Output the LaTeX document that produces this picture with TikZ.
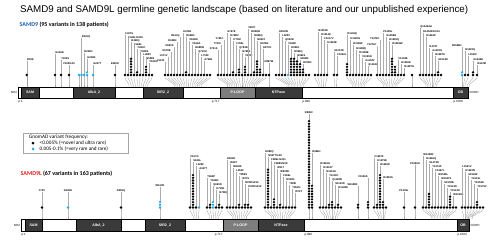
\documentclass[tikz,border=0pt]{standalone}
\usepackage{fontspec}
\setmainfont{Liberation Sans}
\newfontfamily\carl{Carlito}
\definecolor{dk}{RGB}{58,58,58}
\definecolor{pl}{RGB}{125,125,125}
\definecolor{bl}{RGB}{40,170,225}
\definecolor{sb}{RGB}{30,95,175}
\definecolor{sr}{RGB}{225,30,30}
\newcounter{lpc}
\newcommand\labf{\fontsize{2.6}{3}\selectfont\bfseries}
\newcommand\lp[6]{%
 \stepcounter{lpc}%
 \pgfmathsetmacro\lpbx{\grc+\grf*(#1-\grc)}%
 \pgfmathsetmacro\lptop{\lpby-(#2-1)*2.7}%
 \draw[fan] (#1,\lpby) -- (#1,\lpby+3) -- (\lpbx,\lpbt-2.5) -- (\lpbx,\lpbt);%
 \draw[stem] (#1,\lptop) -- (#1,#3);%
 \node[lab,anchor=#6] (v\arabic{lpc}) at (#1,#3) {#4};%
 \foreach \k in {1,...,#2}{\fill[#5] (#1,\lpby-\k*2.7+2.7) circle (1.3);}%
}
\newcommand\lpn[3]{%
 \pgfmathsetmacro\lpbx{\grc+\grf*(#1-\grc)}%
 \draw[fan] (#1,\lpby) -- (#1,\lpby+3) -- (\lpbx,\lpbt-2.5) -- (\lpbx,\lpbt);%
 \foreach \k in {1,...,#2}{\fill[#3] (#1,\lpby-\k*2.7+2.7) circle (1.3);}%
}
\newcommand\dombox[7]{%
 \draw[line width=0.5pt, fill=#5] (#1,#3) rectangle (#2,#4);%
 \node[domlab] (#7) at ({(#1+#2)/2},{(#3+#4)/2}) {#6};%
}
\tikzset{
 fan/.style={draw=gray!75, line width=0.3pt},
 stem/.style={draw=gray!65, line width=0.3pt},
 lab/.style={font=\labf, inner sep=0.25pt},
 domlab/.style={font=\fontsize{3.6}{4}\selectfont\bfseries, text=white, inner sep=0pt},
 small/.style={font=\fontsize{3}{3.5}\selectfont, inner sep=0.3pt},
}
\begin{document}
\begin{tikzpicture}[x=1pt,y=-1pt]
\useasboundingbox (0,0) rectangle (500,243);
\fill[white] (0,0) rectangle (500,243);
% title
\node[anchor=west, inner sep=0] (title) at (20,10) {\resizebox{448pt}{!}{SAMD9 and SAMD9L germline genetic landscape (based on literature and our unpublished experience)}};
\node[anchor=west, inner sep=0, font={\fontsize{6}{7}\selectfont\carl\bfseries}] (t9) at (19.5,24.5) {\textcolor{sb}{SAMD9} (95 variants in 138 patients)};
\node[anchor=west, inner sep=0, font={\fontsize{6}{7}\selectfont\carl\bfseries}] (t9l) at (20.5,173.3) {\textcolor{sr}{SAMD9L} (67 variants in 163 patients)};
% legend
\draw[gray!70, line width=0.5pt] (23,133) rectangle (128,153);
\node[anchor=west, inner sep=0, font={\fontsize{5.2}{6}\selectfont\carl}] (lg0) at (29,137.5) {GnomAD variant frequency:};
\fill[black] (33,143.2) circle (1.5);
\node[anchor=west, inner sep=0, font={\fontsize{5.2}{6}\selectfont\carl}] (lg1) at (39.5,143.2) {<0.005\% (=novel and ultra rare)};
\fill[bl] (33,149) circle (1.5);
\node[anchor=west, inner sep=0, font={\fontsize{5.2}{6}\selectfont\carl}] (lg2) at (39.5,149) {0.005-0.1\% (=very rare and rare)};

% ================= SAMD9 =================
\def\lpby{75}\def\lpbt{87}
\def\grf{1}
\def\grc{26.7}\lp{26.7}{1}{61}{R33K}{black}{south west}
\def\grc{55}\lp{55}{1}{54}{G136R}{black}{south west}
\def\grc{61}\lp{61}{1}{60}{T155S}{black}{south west}
\def\grc{69}\lp{69}{1}{65}{V162fsX5}{black}{south}
\def\grc{79}\lpn{79}{1}{bl}
\def\grc{81.5}\lp{81.5}{1}{38}{R221Q}{bl}{south west}
\def\grc{84}\lp{84}{1}{53}{R230H}{bl}{south west}
\def\grc{87}\lp{87}{2}{59}{H244R}{bl}{south west}
\def\grc{93}\lp{93}{1}{65}{G247T}{bl}{south west}
\def\grc{115}\lp{115}{1}{65}{E360K}{black}{south}
% group A
\def\grc{138}\def\grf{0.7}
\lp{125}{1}{35}{F437S}{black}{south west}
\lp{128}{1}{38.5}{F440LfsX19}{black}{south west}
\lp{131}{7}{42}{R459Q}{black}{south west}
\lp{134}{1}{45.5}{F466L}{black}{south west}
\lp{137}{2}{49}{Y484C}{black}{south west}
\lp{140}{1}{52.5}{Y489S}{black}{south west}
\lp{143}{1}{56}{L495V}{black}{south west}
\lp{146}{4}{59.5}{N508S}{black}{south west}
\lp{149}{1}{63}{V520G}{black}{south west}
\lpn{152}{1}{black}
% group B
\def\grc{188}\def\grf{0.6}
\lp{165}{1}{62}{L567F}{black}{south east}
\lp{168}{1}{57}{L571V}{black}{south east}
\lp{171}{1}{52}{K578E}{black}{south east}
\lp{174}{1}{47}{N590S}{black}{south east}
\lp{177}{1}{42}{D608N}{black}{south east}
\lp{180}{1}{37}{R614Q}{black}{south east}
\lp{183}{1}{33}{K676E}{black}{south west}
\lp{186}{2}{37}{D669N}{black}{south west}
\lp{189}{1}{41}{V622M}{black}{south west}
\lp{192}{1}{45}{V636A}{black}{south west}
\lp{195}{1}{49}{R685W}{black}{south west}
\lp{198}{1}{53}{Q710H}{black}{south west}
\lp{201}{1}{57}{L710F}{black}{south west}
\lp{204}{1}{61}{A722E}{black}{south west}
\lpn{207}{1}{black}
\lpn{210}{1}{black}
% group C
\def\grc{242}\def\grf{0.6}
\lp{218}{1}{50}{F741S}{black}{south east}
\lp{221}{1}{45}{T749I}{black}{south east}
\lp{224}{1}{40}{Y761C}{black}{south east}
\lp{227}{1}{33}{G767E}{black}{south west}
\lp{230}{1}{37}{D769N}{black}{south west}
\lp{233}{2}{41}{I773M}{black}{south west}
\lp{236}{1}{45}{F780L}{black}{south west}
\lp{239}{3}{49}{Q784R}{black}{south west}
\lp{242}{1}{53}{N791S}{black}{south west}
\lp{245}{4}{57}{V801I}{black}{south west}
\lp{248}{1}{29}{V807I}{black}{south west}
\lp{251}{1}{33}{R824W}{black}{south west}
\lp{254}{2}{37}{R826Q}{black}{south west}
\lp{257}{6}{41}{N834Y}{black}{south west}
\lp{260}{3}{45}{H876R}{black}{south west}
\lp{263}{1}{49}{E877K}{black}{south west}
\lpn{266}{1}{black}
% group D
\def\grc{269}\def\grf{1}
\lp{269}{1}{63}{N897W}{black}{south}
\def\grc{298}\def\grf{0.5}
\lpn{276}{1}{black}
\lp{279}{1}{33}{E853W}{black}{south west}
\lp{282}{1}{37}{L920V}{black}{south west}
\lp{285}{1}{41}{Q932R}{black}{south west}
\lp{288}{1}{45}{V948F}{bl}{south west}
\lp{291}{7}{49}{D951K}{black}{south west}
\lp{294}{7}{53}{R956Q}{black}{south west}
\lp{297}{6}{56.5}{N961S}{black}{south west}
\lp{300}{5}{60}{S968R}{black}{south west}
\lp{303}{3}{64}{D976N}{black}{south west}
\lpn{306}{1}{black}
\lpn{309}{1}{black}
% group E
\def\grc{323}\def\grf{0.6}
\lpn{315}{1}{black}
\lp{318}{1}{32}{N1003K}{black}{south west}
\lp{321}{1}{36}{D1014K}{black}{south west}
\lp{324}{1}{40}{F1017V}{black}{south west}
\lp{327}{1}{44}{K1024E}{black}{south west}
% group F
\def\grc{336}\def\grf{0.6}
\lp{334}{1}{52}{S1057R}{black}{south west}
\lp{337}{1}{56}{F1062L}{black}{south west}
% group G
\def\grc{358}\def\grf{0.5}
\lp{347}{5}{35}{D1136Q}{black}{south west}
\lp{350}{1}{40}{K1180fs}{black}{south west}
\lp{353}{1}{45}{R1186P}{black}{south west}
\lp{356}{1}{50}{R1188Q}{black}{south west}
\lp{359}{1}{54}{D1189E}{black}{south west}
\lp{362}{1}{58}{V1195N}{black}{south west}
\lp{365}{1}{62}{A1192V}{black}{south west}
\lp{368}{1}{66}{Q1194H}{black}{south west}
\lpn{371}{1}{black}
% group H
\def\grc{390}\def\grf{0.5}
\lp{377}{1}{46}{Y1274C}{black}{south east}
\lp{380}{1}{40}{Y1276C}{black}{south east}
\lp{383}{1}{33}{P1285L}{black}{south west}
\lp{386}{1}{37}{G1286R}{black}{south west}
\lp{389}{1}{41}{R1293Q}{black}{south west}
\lp{392}{7}{45}{R1293W}{black}{south west}
\lpn{395}{4}{black}
\lp{398}{1}{60}{V1339E}{black}{south west}
\lp{401}{1}{64}{R1350E}{black}{south west}
\lp{404}{1}{68}{N1387H}{black}{south west}
\def\grc{412}\def\grf{1}
\lpn{412}{1}{black}
% group I
\def\grc{432}\def\grf{0.5}
\lp{420}{1}{28}{Q1445del}{black}{south west}
\lp{423}{1}{33}{E1450RfsX14}{black}{south west}
\lp{426}{1}{37}{D1463P}{black}{south west}
\lp{429}{1}{48}{I1479T}{black}{south west}
\lp{432}{1}{52}{A1478G}{black}{south west}
\lp{435}{1}{56}{R1487K}{black}{south west}
\lp{438}{2}{61}{S1514N}{black}{south west}
\lpn{441}{1}{black}
% group J
\def\grc{462}\def\grf{0.5}
\lp{462}{2}{47}{R1528H}{bl}{south east}
\lp{465}{1}{51}{R1533Q}{black}{south west}
\lp{468}{1}{56}{L1538I}{black}{south west}
\lp{473}{2}{61}{G1545E}{black}{south west}
\lp{477}{1}{65}{I1567M}{black}{south west}
% SAMD9 bar
\draw[line width=0.5pt, fill=white] (18,87) rectangle (468,98);
\dombox{21}{39}{87}{98}{dk}{SAM}{d9sam}
\dombox{73}{115}{87}{98}{dk}{AlbA\_2}{d9alba}
\dombox{143}{183}{87}{98}{dk}{SIR2\_2}{d9sir}
\dombox{220}{255}{87}{98}{pl}{P-LOOP}{d9pl}
\dombox{255}{302}{87}{98}{dk}{NTPase}{d9nt}
\dombox{453}{468}{87}{98}{dk}{OB}{d9ob}
\draw[line width=0.9pt] (18,87) rectangle (468,98);
\node[small, anchor=east] (d9n) at (17.5,92.5) {NH2};
\node[small, anchor=west] (d9c) at (469,92.5) {COOH};
\node[small, anchor=north west] (d9p1) at (18,99.5) {p.1};
\node[small, anchor=north east] (d9p2) at (220,99.5) {p.717};
\node[small, anchor=north west] (d9p3) at (302,99.5) {p.990};
\node[small, anchor=north west] (d9p4) at (453,99.5) {p.1589};

% ================= SAMD9L =================
\def\lpby{207.5}\def\lpbt{219}
\def\grf{1}
\def\grc{42}\lp{42}{1}{192}{Y72C}{black}{south}
\def\grc{68}\lp{68}{1}{192}{D169H}{bl}{south}
\def\grc{121}\lp{121}{1}{192}{R359Q}{black}{south}
\def\grc{160}\lp{160}{3}{187}{W517R}{bl}{south}
% cluster 1
\def\grc{198}\def\grf{0.6}
\lp{190}{1}{158}{V617G}{black}{south west}
\lp{193}{13}{162}{S626L}{black}{south west}
\lp{196}{1}{166}{L629F}{black}{south west}
\lp{199}{1}{170}{A637T}{bl}{south west}
% cluster 2
\def\grc{214}\def\grf{0.6}
\lp{207}{1}{178}{T665P}{black}{south west}
\lp{210}{2}{182}{Y668N}{black}{south west}
\lp{213}{3}{186}{Q690D}{bl}{south west}
\lp{216}{1}{190}{K710E}{black}{south west}
\lp{219}{2}{194}{R708Q}{black}{south west}
\lpn{222}{1}{black}
% cluster 3
\def\grc{240}\def\grf{0.6}
\lp{227}{1}{160}{E806K}{black}{south west}
\lp{230}{1}{164}{I826T}{black}{south west}
\lp{233}{1}{168}{M840K}{black}{south west}
\lp{236}{1}{172}{L851F}{black}{south west}
\lp{239}{2}{176}{T859S}{black}{south west}
\lp{242}{1}{180}{I873V}{black}{south west}
\lp{245}{2}{184}{R878fsX15}{black}{south west}
\lp{248}{2}{188}{K879fsX12}{black}{south west}
\lpn{251}{1}{black}
% cluster 4
\def\grc{282}\def\grf{0.6}
\lp{265}{1}{153}{H880Q}{black}{south west}
\lp{268}{15}{157}{N907TfsX8}{black}{south west}
\lp{271}{1}{161}{F886LfsX11}{black}{south west}
\lp{274}{4}{165}{F888SfsX8}{black}{south west}
\lp{277}{1}{169}{I891T}{black}{south west}
\lp{280}{2}{173}{W903R}{black}{south west}
\lp{283}{1}{177}{F906L}{black}{south west}
\lp{286}{1}{181}{D910N}{black}{south west}
\lp{289}{1}{185}{T929I}{black}{south west}
\lp{292}{1}{189}{T951fs}{black}{south west}
\lp{295}{1}{193}{I972T}{black}{south west}
% big column
\def\grc{309}\def\grf{1}
\lp{309}{33}{114}{R986C}{black}{south}
\lp{312}{9}{153}{R986H}{black}{south west}
% cluster 5
\def\grc{332}\def\grf{0.6}
\lp{320}{1}{165}{R1026G}{black}{south west}
\lp{323}{1}{169}{D1034Y}{black}{south west}
\lp{326}{1}{173}{N1114H}{black}{south west}
\lp{329}{2}{177}{Y1110C}{black}{south west}
\lp{332}{3}{181}{Q1128R}{black}{south west}
\lp{335}{1}{185}{S1143D}{black}{south west}
\lp{338}{2}{189}{D1148N}{black}{south west}
\lpn{341}{1}{black}
\def\grc{358}\def\grf{1}
\lp{358}{2}{186}{W1180R}{black}{south east}
\def\grc{368}
\lp{368}{3}{178}{C1196S}{black}{south east}
% cluster big 2
\def\grc{383}\def\grf{0.5}
\lp{374}{1}{158}{C1267F}{black}{south west}
\lp{377}{2}{162}{K1279E}{black}{south west}
\lp{380}{13}{166}{R1281K}{black}{south west}
\lp{383}{3}{179}{R1281S}{black}{south west}
\lpn{386}{1}{black}
\def\grf{1}
\def\grc{404}\lp{404}{1}{192}{P1349L}{black}{south}
\def\grc{415}\lp{415}{1}{165}{P1365N}{black}{south}
% cluster 6
\def\grc{440}\def\grf{0.5}
\lp{423}{1}{156}{W1430R}{black}{south west}
\lp{426}{1}{160}{R1466Q}{black}{south west}
\lp{429}{6}{164}{S1473N}{black}{south west}
\lp{432}{1}{168}{T1474P}{black}{south west}
\lp{435}{1}{172}{F1497L}{black}{south west}
\lp{438}{1}{176}{W1505L}{black}{south west}
\lp{441}{1}{180}{W1507S}{black}{south west}
\lp{444}{1}{184}{S1509R}{black}{south west}
\lp{447}{1}{188}{Y1512N}{black}{south west}
\lp{450}{5}{192}{Y1512H}{black}{south west}
\lp{453}{1}{196}{W1513R}{black}{south west}
\lpn{456}{1}{black}
% cluster 7
\def\grc{465}\def\grf{0.4}
\lp{462}{1}{168}{L1521V}{black}{south west}
\lp{465}{1}{172}{K1523N}{black}{south west}
\lp{468}{1}{176}{S1526P}{black}{south west}
\lp{471}{1}{180}{Y1551L}{black}{south west}
\lp{474}{1}{184}{Y1552N}{black}{south west}
\lp{477}{3}{188}{Y1575C}{black}{south west}
\lpn{480}{1}{black}
\lpn{483}{1}{black}
% SAMD9L bar
\draw[line width=0.5pt, fill=white] (21,219) rectangle (469,231);
\dombox{25}{42}{219}{231}{dk}{SAM}{dlsam}
\dombox{76}{121}{219}{231}{dk}{AlbA\_2}{dlalba}
\dombox{145}{185}{219}{231}{dk}{SIR2\_2}{dlsir}
\dombox{223}{258}{219}{231}{pl}{P-LOOP}{dlpl}
\dombox{258}{304}{219}{231}{dk}{NTPase}{dlnt}
\dombox{457}{469}{219}{231}{dk}{OB}{dlob}
\draw[line width=0.9pt] (21,219) rectangle (469,231);
\node[small, anchor=east] (dln) at (20.5,225) {NH2};
\node[small, anchor=west] (dlc) at (470,225) {COOH};
\node[small, anchor=north west] (dlp1) at (21,232.5) {p.1};
\node[small, anchor=north east] (dlp2) at (223,232.5) {p.717};
\node[small, anchor=north west] (dlp3) at (304,232.5) {p.990};
\node[small, anchor=north west] (dlp4) at (457,232.5) {p.1584};
\end{tikzpicture}
\end{document}
